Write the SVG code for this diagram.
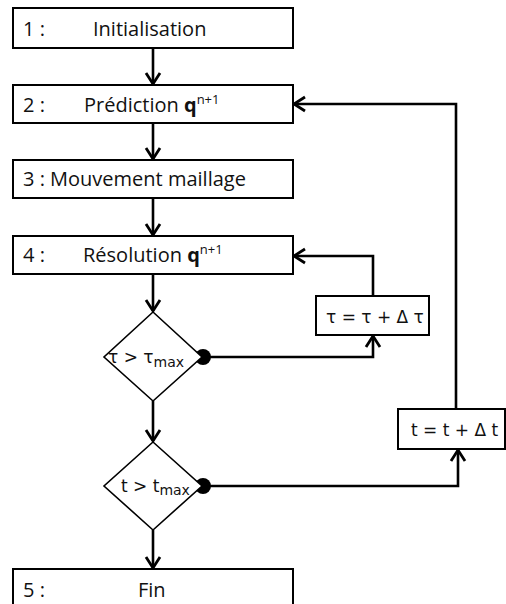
<svg xmlns="http://www.w3.org/2000/svg" width="506" height="604" viewBox="0 0 506 604">
<style>
.box{fill:#fff;stroke:#000;stroke-width:2}
.dia{fill:#fff;stroke:#000;stroke-width:1.6}
.lbl{font-family:"Open Sans","Liberation Sans",sans-serif;font-size:20px;fill:#111}
.math{font-family:"DejaVu Sans",sans-serif;font-size:17px;fill:#111}
.sub{font-size:14px}
.con{fill:none;stroke:#000;stroke-width:2.6}
.dot{fill:#000}
</style>
<defs>
<marker id="arr" markerUnits="userSpaceOnUse" markerWidth="16" markerHeight="18" viewBox="0 0 16 18" refX="13" refY="9" orient="auto">
<path d="M2,2 L13,9 L2,16" fill="none" stroke="#000" stroke-width="2.8"/>
</marker>
</defs>
<g id="connectors">
<line class="con" x1="153" y1="48" x2="153" y2="84" marker-end="url(#arr)"/>
<line class="con" x1="153" y1="123" x2="153" y2="159" marker-end="url(#arr)"/>
<line class="con" x1="153" y1="198" x2="153" y2="235" marker-end="url(#arr)"/>
<line class="con" x1="153" y1="274" x2="153" y2="311" marker-end="url(#arr)"/>
<line class="con" x1="153" y1="401" x2="153" y2="441" marker-end="url(#arr)"/>
<line class="con" x1="153" y1="530" x2="153" y2="568" marker-end="url(#arr)"/>
<polyline class="con" points="203,357 373,357 373,336" marker-end="url(#arr)"/>
<polyline class="con" points="373,296 373,256 294,256" marker-end="url(#arr)"/>
<polyline class="con" points="203,486 458,486 458,450" marker-end="url(#arr)"/>
<polyline class="con" points="456,409 456,104 294,104" marker-end="url(#arr)"/>
<circle class="dot" cx="203" cy="357" r="8"/>
<circle class="dot" cx="203" cy="486" r="8"/>
</g>
<g id="n1">
<rect class="box" x="13" y="8" width="280" height="40"/>
<text class="lbl" x="23" y="36">1 :</text>
<text class="lbl" x="93" y="36">Initialisation</text>
</g>
<g id="n2">
<rect class="box" x="13" y="85" width="280" height="38"/>
<text class="lbl" x="23" y="112">2 :</text>
<text class="lbl" x="84" y="112">Prédiction <tspan font-weight="bold">q</tspan><tspan font-size="13" dy="-8">n+1</tspan></text>
</g>
<g id="n3">
<rect class="box" x="13" y="160" width="280" height="38"/>
<text class="lbl" x="23" y="186">3 : Mouvement maillage</text>
</g>
<g id="n4">
<rect class="box" x="13" y="236" width="280" height="38"/>
<text class="lbl" x="23" y="262">4 :</text>
<text class="lbl" x="83" y="262">Résolution <tspan font-weight="bold">q</tspan><tspan font-size="13" dy="-8">n+1</tspan></text>
</g>
<g id="d1">
<polygon class="dia" points="153,312 202,357 153,401 104,357"/>
<text class="math" x="108" y="363">τ &gt; τ<tspan class="sub" dy="4">max</tspan></text>
</g>
<g id="d2">
<polygon class="dia" points="153,442 202,486 153,530 104,486"/>
<text class="math" x="121" y="492">t &gt; t<tspan class="sub" dy="3">max</tspan></text>
</g>
<g id="tau">
<rect class="box" x="316" y="296" width="113" height="39"/>
<text class="math" x="326" y="323">τ = τ + Δ τ</text>
</g>
<g id="tstep">
<rect class="box" x="398" y="409" width="107" height="40"/>
<text class="math" x="411" y="436">t = t + Δ t</text>
</g>
<g id="n5">
<rect class="box" x="13" y="569" width="280" height="40"/>
<text class="lbl" x="23" y="597">5 :</text>
<text class="lbl" x="138" y="597">Fin</text>
</g>
</svg>
